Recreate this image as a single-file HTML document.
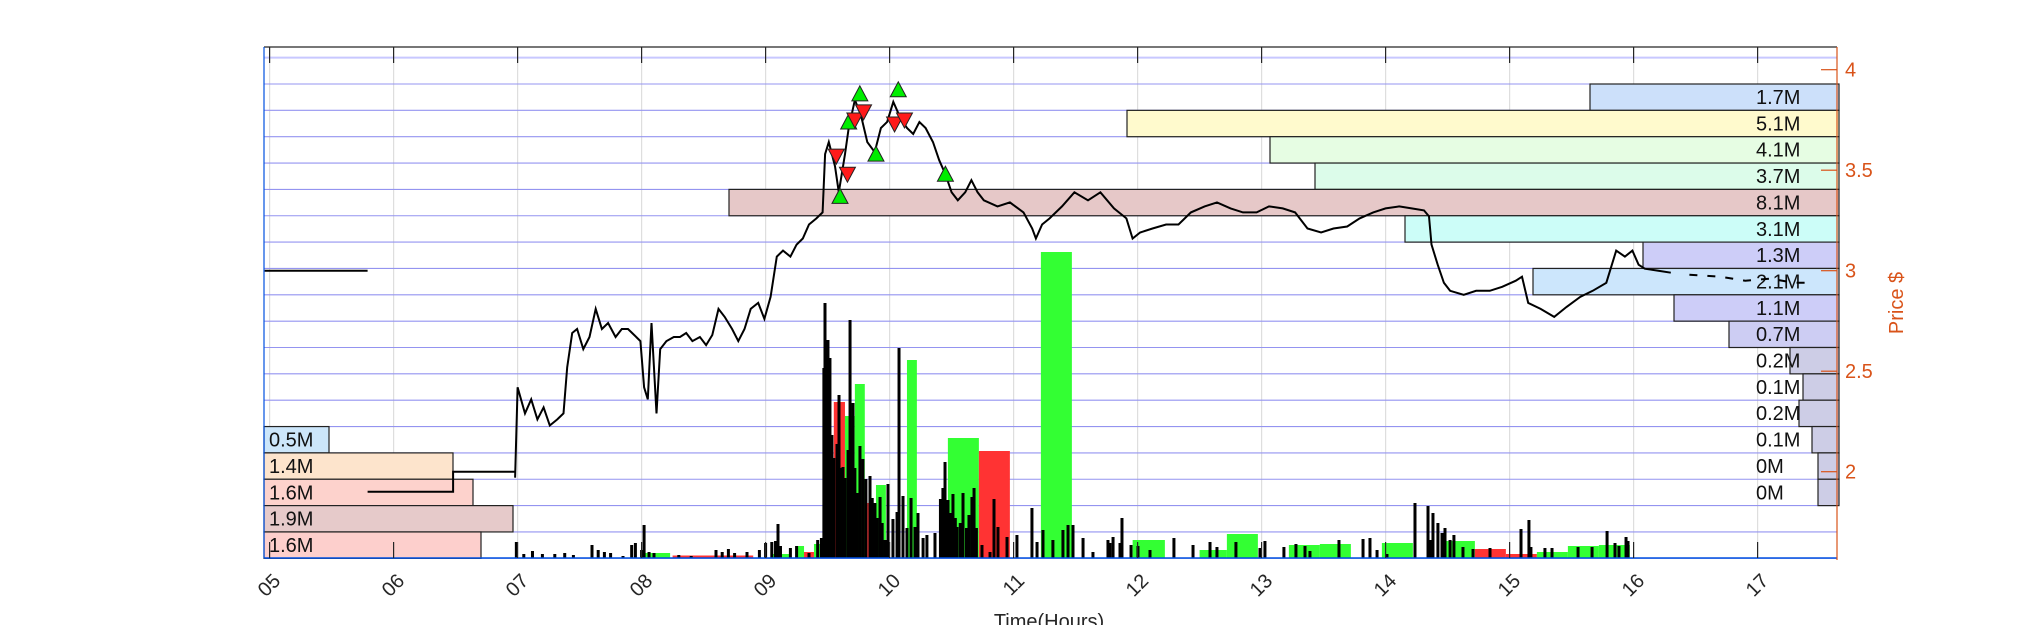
<!DOCTYPE html>
<html><head><meta charset="utf-8">
<style>
html,body{margin:0;padding:0;background:#fff;width:2031px;height:625px;overflow:hidden}
svg{display:block;font-family:"Liberation Sans",sans-serif}
</style></head>
<body>
<svg id="chart" width="2031" height="625" viewBox="0 0 2031 625" xmlns="http://www.w3.org/2000/svg">
<g id="grid"></g>
<g id="profile"></g>
<g id="vol"></g>
<g id="price"></g>
<g id="marks"></g>
<g id="axes"></g>
<text x="1049" y="628" font-size="20" text-anchor="middle" fill="#262626">Time(Hours)</text>
<text x="0" y="0" font-size="20" text-anchor="middle" fill="#d95319" transform="translate(1903,303) rotate(-90)">Price $</text>
</svg>
<script>
// ---- data ----
const hourTicks = [5,6,7,8,9,10,11,12,13,14,15,16,17];
const hourLabels = ["05","06","07","08","09","10","11","12","13","14","15","16","17"];
const priceTicks = [2,2.5,3,3.5,4];
const priceTickLabels = ["2","2.5","3","3.5","4"];

const preTimes = [4.96,5.79];
const prePrices = [3.0,3.0];
const earlyTimes = [5.79,6.48,6.48,6.98];
const earlyPrices = [1.90,1.90,2.00,2.00];

const priceTimes = [6.98,7.00,7.06,7.11,7.16,7.21,7.26,7.32,7.37,7.40,7.44,7.48,7.53,7.58,7.63,7.68,7.73,7.79,7.84,7.89,7.94,7.99,8.02,8.05,8.08,8.12,8.15,8.20,8.26,8.31,8.36,8.41,8.47,8.52,8.57,8.62,8.67,8.73,8.78,8.83,8.88,8.94,8.99,9.04,9.09,9.14,9.20,9.25,9.30,9.35,9.41,9.46,9.48,9.51,9.56,9.59,9.64,9.67,9.72,9.77,9.82,9.88,9.93,9.98,10.03,10.08,10.14,10.19,10.24,10.29,10.35,10.40,10.45,10.50,10.55,10.61,10.66,10.71,10.76,10.87,10.97,11.08,11.15,11.18,11.23,11.29,11.39,11.49,11.60,11.70,11.81,11.91,11.96,12.02,12.12,12.23,12.33,12.43,12.54,12.64,12.75,12.85,12.96,13.06,13.17,13.27,13.37,13.48,13.58,13.69,13.79,13.90,14.00,14.11,14.21,14.31,14.35,14.37,14.42,14.47,14.52,14.63,14.73,14.84,14.94,15.05,15.10,15.15,15.25,15.36,15.46,15.57,15.67,15.78,15.86,15.93,15.99,16.04,16.09,16.20,16.30];
const pricePrices = [1.97,2.42,2.29,2.36,2.26,2.32,2.23,2.26,2.29,2.52,2.69,2.71,2.61,2.67,2.81,2.71,2.74,2.67,2.71,2.71,2.68,2.65,2.42,2.36,2.74,2.29,2.61,2.65,2.67,2.67,2.69,2.65,2.67,2.63,2.68,2.81,2.77,2.71,2.65,2.71,2.81,2.84,2.76,2.87,3.07,3.10,3.07,3.13,3.16,3.23,3.26,3.29,3.58,3.64,3.52,3.39,3.58,3.71,3.85,3.77,3.64,3.59,3.71,3.74,3.84,3.77,3.71,3.68,3.74,3.71,3.64,3.55,3.48,3.39,3.35,3.39,3.45,3.39,3.35,3.32,3.34,3.29,3.21,3.16,3.23,3.26,3.32,3.39,3.35,3.39,3.31,3.26,3.16,3.19,3.21,3.23,3.23,3.29,3.32,3.34,3.31,3.29,3.29,3.32,3.31,3.29,3.21,3.19,3.21,3.22,3.26,3.29,3.31,3.32,3.31,3.30,3.27,3.13,3.03,2.94,2.90,2.88,2.90,2.90,2.92,2.95,2.97,2.84,2.81,2.77,2.82,2.87,2.90,2.94,3.10,3.07,3.10,3.03,3.01,3.00,2.99];
const lateTimes = [16.45,16.7,16.9,17.1,17.3,17.45];
const latePrices = [2.98,2.97,2.95,2.96,2.94,2.94];

const buyTimes = [9.60,9.67,9.76,9.89,10.07,10.45];
const buyPrices = [3.37,3.74,3.88,3.58,3.90,3.48];
const sellTimes = [9.57,9.66,9.72,9.79,10.04,10.12];
const sellPrices = [3.57,3.48,3.75,3.79,3.73,3.75];

// volume profile (bins of 0.131 $ from top)
const profRightBins = [0,1,2,3,4,5,6,7,8,9,10,11,12,13,14,15];
const profRightVol = [1.7,5.1,4.1,3.7,8.1,3.1,1.3,2.1,1.1,0.7,0.2,0.1,0.2,0.1,0,0];
const profRightLen = [249,712,569,524,1110,434,196,306,165,110,49,36,40,27,21,21];
const profRightColor = ["#cce0fa","#fffacd","#e6fde3","#dcfcea","#e6c8c8","#ccfdf8","#cdcdf8","#cce6fc","#cdcdf8","#cdcdf3","#cdcde6","#cdcde6","#cdcde6","#cdcde6","#cdcde6","#cdcde6"];
const profLeftBins = [13,14,15,16,17];
const profLeftVol = [0.5,1.4,1.6,1.9,1.6];
const profLeftLen = [65,189,209,249,217];
const profLeftColor = ["#cce6fa","#fde4cc","#fdd2cc","#e6caca","#fdcfcc"];

// interval volume bars [start, end] hours, volume (k shares)
const barStart = [7.99,8.25,8.58,9.05,9.24,9.31,9.39,9.55,9.64,9.72,9.82,9.89,10.14,10.47,10.72,11.22,11.96,12.50,12.72,13.22,13.47,13.97,14.47,14.72,14.97,15.22,15.47,15.72];
const barEnd   = [8.23,8.58,8.90,9.20,9.31,9.39,9.47,9.64,9.72,9.80,9.90,9.97,10.22,10.72,10.97,11.47,12.22,12.72,12.97,13.47,13.72,14.22,14.72,14.97,15.22,15.47,15.72,15.97];
const barVol   = [50,25,25,40,120,60,140,1560,1420,1740,550,730,1980,1200,1070,3060,180,80,240,130,140,150,170,90,40,60,120,130];
const barUp    = [1,0,0,1,1,0,1,0,1,1,0,1,1,1,0,1,1,1,1,1,1,1,1,0,0,1,1,1];

// minute volume ticks
const tickTimes = [6.99,7.05,7.12,7.20,7.30,7.38,7.45,7.60,7.65,7.70,7.75,7.85,7.92,7.95,8.00,8.02,8.06,8.10,8.30,8.40,8.60,8.65,8.70,8.75,8.85,8.95,9.00,9.05,9.08,9.10,9.12,9.20,9.25,9.35,9.42,9.45,9.470,9.479,9.49,9.503,9.51,9.519,9.535,9.55,9.576,9.592,9.61,9.624,9.64,9.665,9.681,9.69,9.705,9.72,9.737,9.761,9.785,9.809,9.842,9.86,9.882,9.90,9.923,9.94,9.963,9.987,10.027,10.06,10.076,10.108,10.14,10.173,10.205,10.229,10.27,10.301,10.366,10.41,10.43,10.447,10.46,10.471,10.49,10.511,10.53,10.544,10.57,10.592,10.62,10.64,10.664,10.681,10.70,10.745,10.81,10.842,10.874,10.947,11.027,11.148,11.189,11.237,11.317,11.398,11.439,11.479,11.56,11.64,11.761,11.777,11.802,11.858,11.874,11.947,12.003,12.1,12.293,12.447,12.584,12.64,12.793,12.987,13.027,13.18,13.277,13.35,13.39,13.624,13.818,13.874,13.931,14.011,14.237,14.342,14.358,14.382,14.422,14.455,14.479,14.52,14.551,14.624,14.705,14.842,15.092,15.156,15.172,15.285,15.342,15.552,15.665,15.786,15.85,15.882,15.939,15.955,16.971];
const tickVol = [160,40,70,40,40,50,30,130,80,60,50,20,130,150,80,330,60,50,30,20,80,60,90,50,60,80,150,160,170,340,120,100,120,50,180,200,1900,2550,1950,2180,2000,2000,1230,1000,1140,1630,900,910,800,1080,2380,1300,1550,900,650,1120,990,790,820,600,550,400,610,350,180,740,390,460,2100,620,300,600,310,450,200,230,250,590,700,960,500,580,450,640,400,310,350,650,300,430,610,700,300,130,60,590,310,210,230,500,160,280,180,280,330,330,200,60,180,150,210,150,400,130,120,80,200,130,160,110,160,100,170,110,140,120,70,180,190,200,80,40,550,520,180,450,350,250,300,180,230,110,90,100,290,380,110,100,100,110,110,270,150,120,210,170];

// ---- scales ----
const X0 = 269.6, PXH = 124.0;
const xS = t => X0 + (t - 5) * PXH;
const yP = p => 270.7 - (p - 3) * 201;
const BASE = 558, VS = 0.1;
const yV = v => BASE - v * VS;
const ROW0 = 84, ROWH = 26.35;
const rowY = i => ROW0 + i * ROWH;
const PL = 264, PR = 1837, PT = 47;

const NS = "http://www.w3.org/2000/svg";
function mk(tag, parent, attrs){ const e = document.createElementNS(NS, tag); for (const k in attrs) e.setAttribute(k, attrs[k]); parent.appendChild(e); return e; }

// grid
const grid = document.getElementById('grid');
for (let i = 0; i < hourTicks.length; i++) {
  const l = mk('line', grid, {x1: xS(hourTicks[i]), x2: xS(hourTicks[i]), y1: PT, y2: BASE, stroke: '#dedede', 'stroke-width': 1.2});
  
  
}
for (let i = -1; i <= 18; i++) {
  const y = rowY(i);
  const l = mk('line', grid, {x1: PL, x2: PR, y1: y, y2: y, stroke: i === -1 ? '#c8c8ff' : '#9494f0', 'stroke-width': i === -1 ? 2 : 1.1});
  
  
}

// volume profile
const prof = document.getElementById('profile');
for (let i = 0; i < profRightBins.length; i++) {
  const y = rowY(profRightBins[i]);
  const r = mk('rect', prof, {x: PR + 2 - profRightLen[i], y: y, width: profRightLen[i], height: ROWH, fill: profRightColor[i], stroke: '#222', 'stroke-width': 1.2});
  
  
}
for (let i = 0; i < profLeftBins.length; i++) {
  const y = rowY(profLeftBins[i]);
  const r = mk('rect', prof, {x: PL, y: y, width: profLeftLen[i], height: ROWH, fill: profLeftColor[i], stroke: '#222', 'stroke-width': 1.2});
  
  
}

// interval volume bars
const vol = document.getElementById('vol');
for (let i = 0; i < barStart.length; i++) {
  const x1 = xS(barStart[i]), x2 = xS(barEnd[i]);
  const r = mk('rect', vol, {x: x1, y: yV(barVol[i]), width: x2 - x1, height: barVol[i] * VS, fill: barUp[i] ? '#33ff33' : '#ff3333'});
  
  
}
for (let i = 0; i < tickTimes.length; i++) {
  const x = xS(tickTimes[i]);
  const r = mk('rect', vol, {x: x - 1.5, y: yV(tickVol[i]), width: 3, height: tickVol[i] * VS, fill: '#000'});
  
  
}

// price lines
const pg = document.getElementById('price');
function line(ts, ps, name, dash){
  let d = '';
  for (let i = 0; i < ts.length; i++) d += (i ? 'L' : 'M') + xS(ts[i]).toFixed(1) + ' ' + yP(ps[i]).toFixed(1);
  const p = mk('path', pg, {d: d, fill: 'none', stroke: '#000', 'stroke-width': 2, 'stroke-linejoin': 'miter'});
  if (dash) p.setAttribute('stroke-dasharray', dash);
  
  
}
line(preTimes, prePrices, 'premarket-price-line');
line(earlyTimes, earlyPrices, 'early-price-line');
line(priceTimes, pricePrices, 'price-line');
line(lateTimes, latePrices, 'afterhours-price-line', '8 10');

// markers
const mg = document.getElementById('marks');
for (let i = 0; i < buyTimes.length; i++) {
  const x = xS(buyTimes[i]), y = yP(buyPrices[i]);
  const t = mk('polygon', mg, {points: `${x-8},${y+7} ${x+8},${y+7} ${x},${y-8}`, fill: '#00ee00', stroke: '#222', 'stroke-width': 1});
  
  
}
for (let i = 0; i < sellTimes.length; i++) {
  const x = xS(sellTimes[i]), y = yP(sellPrices[i]);
  const t = mk('polygon', mg, {points: `${x-8},${y-7} ${x+8},${y-7} ${x},${y+8}`, fill: '#ff1a1a', stroke: '#222', 'stroke-width': 1});
  
  
}

// profile labels
for (let i = 0; i < profRightBins.length; i++) {
  const t = mk('text', prof, {x: 1756, y: rowY(profRightBins[i]) + 20, 'font-size': 20, fill: '#111'});
  t.textContent = profRightVol[i] === 0 ? '0M' : profRightVol[i].toFixed(1) + 'M';
  
  
}
for (let i = 0; i < profLeftBins.length; i++) {
  const t = mk('text', prof, {x: 269, y: rowY(profLeftBins[i]) + 20, 'font-size': 20, fill: '#111'});
  t.textContent = profLeftVol[i].toFixed(1) + 'M';
  
  
}

// axes
const ax = document.getElementById('axes');
mk('line', ax, {x1: PL, x2: PR, y1: PT, y2: PT, stroke: '#262626', 'stroke-width': 1.2});
mk('line', ax, {x1: PL, x2: PR, y1: BASE, y2: BASE, stroke: '#0050e0', 'stroke-width': 1.5});
mk('line', ax, {x1: PL, x2: PL, y1: PT, y2: BASE, stroke: '#0050e0', 'stroke-width': 1.2});
mk('line', ax, {x1: PR, x2: PR, y1: PT, y2: BASE + 2, stroke: '#d95319', 'stroke-width': 1.2});
for (let i = 0; i < hourTicks.length; i++) {
  const x = xS(hourTicks[i]);
  mk('line', ax, {x1: x, x2: x, y1: PT, y2: PT + 16, stroke: '#262626', 'stroke-width': 1.2});
  mk('line', ax, {x1: x, x2: x, y1: BASE, y2: BASE - 16, stroke: '#262626', 'stroke-width': 1.2});
  const t = mk('text', ax, {x: 0, y: 0, 'font-size': 20, fill: '#262626', 'text-anchor': 'end', transform: `translate(${x + 12},${582}) rotate(-45)`});
  t.textContent = hourLabels[i];
  
  
}
for (let i = 0; i < priceTicks.length; i++) {
  const y = yP(priceTicks[i]);
  mk('line', ax, {x1: PR - 16, x2: PR, y1: y, y2: y, stroke: '#d95319', 'stroke-width': 1.2});
  const t = mk('text', ax, {x: 1845, y: y + 7, 'font-size': 20, fill: '#d95319'});
  t.textContent = priceTickLabels[i];
  
  
}
</script>
</body></html>
